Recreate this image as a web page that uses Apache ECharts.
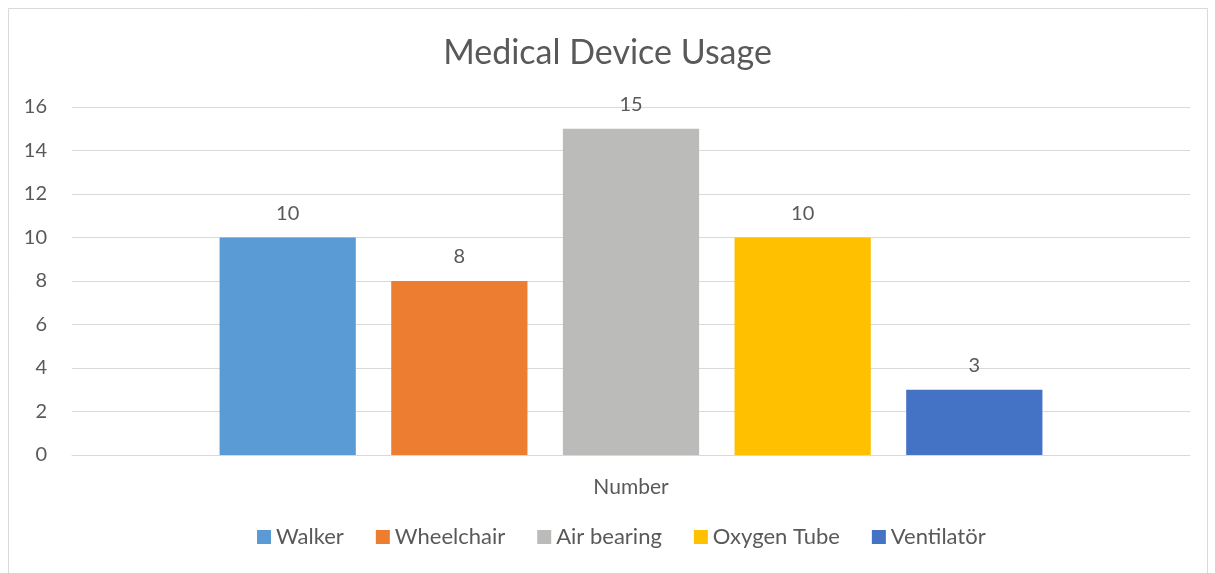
<!DOCTYPE html>
<html>
<head>
<meta charset="utf-8">
<title>Medical Device Usage</title>
<script src="https://cdn.jsdelivr.net/npm/echarts@6/dist/echarts.min.js"></script>
<style>
    html, body { margin: 0; padding: 0; background: #fff; }
    #chart { width: 1215px; height: 573px; }
</style>
</head>
<body>
<div id="chart"></div>
<script>
// 数据
const categories = ['Number'];
const seriesNames = ['Walker', 'Wheelchair', 'Air bearing', 'Oxygen Tube', 'Ventilatör'];
const seriesValues = [10, 8, 15, 10, 3];
const seriesColors = ['#5B9BD5', '#ED7D31', '#BBBBB9', '#FFC000', '#4472C4'];
const yTicks = { min: 0, max: 16, interval: 2 };

const fontFamily = 'Lato, "Open Sans", sans-serif';
const textColor = '#595959';

document.addEventListener('DOMContentLoaded', function() {
    const chart = echarts.init(document.getElementById('chart'));

    const series = seriesNames.map(function(name, i) {
        return {
            name: name,
            type: 'bar',
            data: [seriesValues[i]],
            barGap: '26%',
            barCategoryGap: '26.4%',
            itemStyle: { color: seriesColors[i] },
            label: {
                show: true,
                position: 'top',
                distance: 14,
                color: textColor,
                fontSize: 20,
                fontFamily: fontFamily
            }
        };
    });

    const option = {
        animation: false,
        title: {
            text: 'Medical Device Usage',
            left: 'center',
            top: 31,
            textStyle: {
                color: textColor,
                fontSize: 34,
                fontWeight: 'normal',
                fontFamily: fontFamily
            }
        },
        legend: {
            data: seriesNames,
            bottom: 20,
            left: 252,
            itemWidth: 14,
            itemHeight: 14,
            itemGap: 32,
            icon: 'rect',
            textStyle: {
                color: textColor,
                fontSize: 22,
                fontFamily: fontFamily
            }
        },
        grid: {
            left: 72,
            right: 25,
            top: 107,
            bottom: 118
        },
        xAxis: {
            type: 'category',
            data: categories,
            axisLine: { lineStyle: { color: '#D9D9D9', width: 1 } },
            axisTick: { show: false },
            axisLabel: {
                color: textColor,
                fontSize: 21,
                margin: 22,
                fontFamily: fontFamily
            }
        },
        yAxis: {
            type: 'value',
            min: yTicks.min,
            max: yTicks.max,
            interval: yTicks.interval,
            axisLine: { show: false },
            axisTick: { show: false },
            splitLine: { lineStyle: { color: '#D9D9D9', width: 1 } },
            axisLabel: {
                color: textColor,
                fontSize: 20,
                margin: 25,
                fontFamily: fontFamily
            }
        },
        graphic: [{
            type: 'rect',
            shape: { x: 8.5, y: 8.5, width: 1199, height: 600 },
            style: { fill: 'none', stroke: '#D9D9D9', lineWidth: 1 },
            silent: true
        }],
        series: series
    };

    chart.setOption(option);

    window.addEventListener('resize', function() {
        chart.resize();
    });
});
</script>
</body>
</html>
